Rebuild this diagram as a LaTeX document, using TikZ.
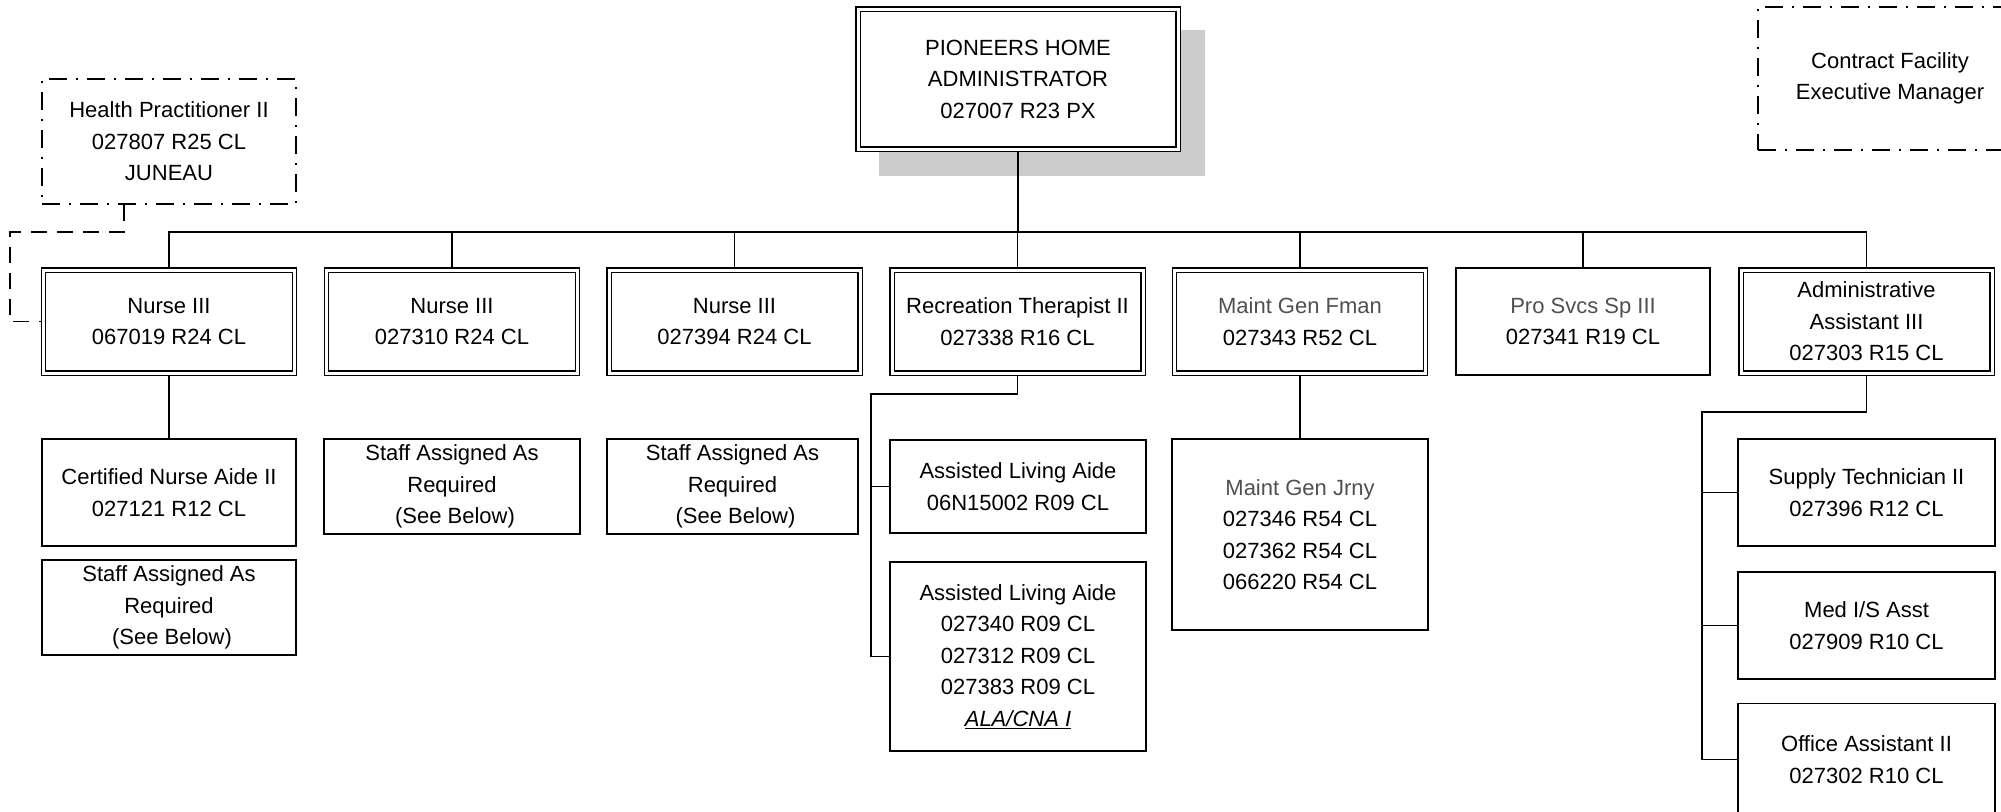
\documentclass[tikz,border=0pt]{standalone}
\usepackage{fontspec}
\setmainfont{Liberation Sans}
\usetikzlibrary{backgrounds}
\definecolor{txtgray}{RGB}{80,80,80}
\definecolor{shadowgray}{RGB}{204,204,204}
\begin{document}
\begin{tikzpicture}[x=1pt,y=-1pt,
  every node/.style={font=\fontsize{22}{31.5}\selectfont, align=center, inner sep=0pt},
  sbox/.style={draw, line width=1.8pt, fill=white},
  dbox/.style={draw, double, double distance=3pt, line width=1.4pt, fill=white},
  ddbox/.style={draw, line width=1.6pt, fill=white, dash pattern=on 18pt off 9pt on 2pt off 9pt},
  lvlone/.style={dbox, minimum width=251pt, minimum height=103pt},
  conn/.style={line width=1.7pt},
  dconn/.style={line width=1.7pt, dash pattern=on 16pt off 10pt}
]
\useasboundingbox (0,0) rectangle (2001,811);

% top
\node[dbox, minimum width=320pt, minimum height=140pt] (top) at (1018,79) {PIONEERS HOME\\ADMINISTRATOR\\027007 R23 PX};
\node[ddbox, minimum width=254pt, minimum height=125pt] (hp) at (169,141.5) {Health Practitioner II\\027807 R25 CL\\JUNEAU};
\node[ddbox, minimum width=264pt, minimum height=143pt] (cf) at (1890,78.5) {Contract Facility\\Executive Manager};

% level one
\node[lvlone] (n1) at (169,321.5) {Nurse III\\067019 R24 CL};
\node[lvlone] (n2) at (452,321.5) {Nurse III\\027310 R24 CL};
\node[lvlone] (n3) at (734.5,321.5) {Nurse III\\027394 R24 CL};
\node[lvlone] (rt) at (1017.5,321.5) {Recreation Therapist II\\027338 R16 CL};
\node[lvlone] (mf) at (1300,321.5) {\textcolor{txtgray}{Maint Gen Fman}\\027343 R52 CL};
\node[sbox, minimum width=254pt, minimum height=107pt] (ps) at (1583,321.5) {\textcolor{txtgray}{Pro Svcs Sp III}\\027341 R19 CL};
\node[lvlone] (aa) at (1866.5,321.5) {Administrative\\Assistant III\\027303 R15 CL};

% level two
\node[sbox, minimum width=254pt, minimum height=107pt] (cna) at (169,492.5) {Certified Nurse Aide II\\027121 R12 CL};
\node[sbox, minimum width=254pt, minimum height=95pt] (sa1) at (169,607.5) {Staff Assigned As\\Required\\~(See Below)};
\node[sbox, minimum width=256pt, minimum height=95pt] (sa2) at (452,486.5) {Staff Assigned As\\Required\\~(See Below)};
\node[sbox, minimum width=251pt, minimum height=95pt] (sa3) at (732.5,486.5) {Staff Assigned As\\Required\\~(See Below)};
\node[sbox, minimum width=256pt, minimum height=93pt] (ala1) at (1018,486.5) {Assisted Living Aide\\06N15002 R09 CL};
\node[sbox, minimum width=256pt, minimum height=189pt] (ala2) at (1018,656.5) {Assisted Living Aide\\027340 R09 CL\\027312 R09 CL\\027383 R09 CL\\\underline{\textit{ALA/CNA I}}};
\node[sbox, minimum width=256pt, minimum height=191pt] (mj) at (1300,534.5) {\textcolor{txtgray}{Maint Gen Jrny}\\027346 R54 CL\\027362 R54 CL\\066220 R54 CL};
\node[sbox, minimum width=257pt, minimum height=107pt] (st) at (1866.5,492.5) {Supply Technician II\\027396 R12 CL};
\node[sbox, minimum width=257pt, minimum height=107pt] (mi) at (1866.5,625.5) {Med I/S Asst\\027909 R10 CL};
\node[sbox, minimum width=257pt, minimum height=112pt] (oa) at (1866.5,759.5) {Office Assistant II\\027302 R10 CL};

\coordinate (busy) at (0,232);
\coordinate (rtspine) at (871,394);
\coordinate (aaspine) at (1702,412);
\coordinate (hpd) at (124,232);
\coordinate (hpl) at (10,232);

\begin{scope}[on background layer]
  \fill[shadowgray] (879,30) rectangle (1205,176);
  \draw[conn] (top.south) -- (top.south |- busy);
  \draw[conn] (n1.north) -- (n1.north |- busy) -- (aa.north |- busy) -- (aa.north);
  \foreach \n in {n2,n3,rt,mf,ps}
    \draw[conn] (\n.north) -- (\n.north |- busy);
  \draw[conn] (n1.south) -- (cna.north);
  \draw[conn] (rt.south) |- (rtspine) -- (rtspine |- ala2.west) -- (ala2.west);
  \draw[conn] (rtspine |- ala1.west) -- (ala1.west);
  \draw[conn] (mf.south) -- (mj.north);
  \draw[conn] (aa.south) |- (aaspine) -- (aaspine |- oa.west) -- (oa.west);
  \draw[conn] (aaspine |- st.west) -- (st.west);
  \draw[conn] (aaspine |- mi.west) -- (mi.west);
  \draw[dconn] (hpd |- hp.south) -- (hpd) -- (hpl) |- (n1.west);
\end{scope}
\end{tikzpicture}
\end{document}
